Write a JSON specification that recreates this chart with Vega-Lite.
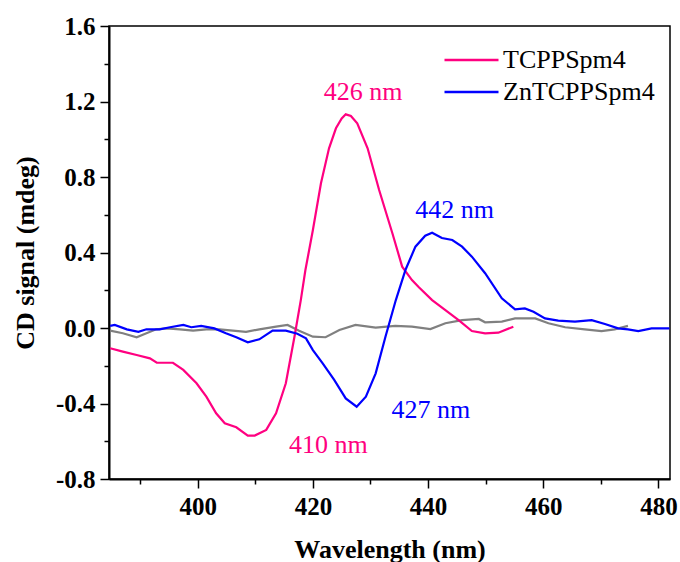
{
  "$schema": "https://vega.github.io/schema/vega-lite/v6.json",
  "autosize": "none",
  "padding": {"left": 109, "top": 26, "right": 10, "bottom": 83},
  "width": 561,
  "height": 453,
  "background": "white",
  "config": {
    "view": {"stroke": "black", "strokeWidth": 1.5},
    "font": "Liberation Serif, Times New Roman, serif"
  },
  "datasets": {
    "main": [
      {"wl": 384.8, "cd": -0.107, "series": "TCPPSpm4"},
      {"wl": 387.0, "cd": -0.125, "series": "TCPPSpm4"},
      {"wl": 389.4, "cd": -0.143, "series": "TCPPSpm4"},
      {"wl": 391.7, "cd": -0.161, "series": "TCPPSpm4"},
      {"wl": 392.9, "cd": -0.184, "series": "TCPPSpm4"},
      {"wl": 395.7, "cd": -0.184, "series": "TCPPSpm4"},
      {"wl": 397.5, "cd": -0.222, "series": "TCPPSpm4"},
      {"wl": 399.8, "cd": -0.293, "series": "TCPPSpm4"},
      {"wl": 401.5, "cd": -0.364, "series": "TCPPSpm4"},
      {"wl": 403.2, "cd": -0.452, "series": "TCPPSpm4"},
      {"wl": 404.7, "cd": -0.505, "series": "TCPPSpm4"},
      {"wl": 406.7, "cd": -0.526, "series": "TCPPSpm4"},
      {"wl": 408.7, "cd": -0.570, "series": "TCPPSpm4"},
      {"wl": 409.9, "cd": -0.570, "series": "TCPPSpm4"},
      {"wl": 411.9, "cd": -0.540, "series": "TCPPSpm4"},
      {"wl": 413.6, "cd": -0.452, "series": "TCPPSpm4"},
      {"wl": 415.3, "cd": -0.293, "series": "TCPPSpm4"},
      {"wl": 416.8, "cd": -0.046, "series": "TCPPSpm4"},
      {"wl": 417.9, "cd": 0.148, "series": "TCPPSpm4"},
      {"wl": 418.7, "cd": 0.307, "series": "TCPPSpm4"},
      {"wl": 420.0, "cd": 0.519, "series": "TCPPSpm4"},
      {"wl": 421.4, "cd": 0.767, "series": "TCPPSpm4"},
      {"wl": 422.8, "cd": 0.952, "series": "TCPPSpm4"},
      {"wl": 424.0, "cd": 1.058, "series": "TCPPSpm4"},
      {"wl": 425.0, "cd": 1.110, "series": "TCPPSpm4"},
      {"wl": 425.7, "cd": 1.132, "series": "TCPPSpm4"},
      {"wl": 426.6, "cd": 1.123, "series": "TCPPSpm4"},
      {"wl": 427.7, "cd": 1.084, "series": "TCPPSpm4"},
      {"wl": 429.5, "cd": 0.952, "series": "TCPPSpm4"},
      {"wl": 431.5, "cd": 0.731, "series": "TCPPSpm4"},
      {"wl": 433.8, "cd": 0.502, "series": "TCPPSpm4"},
      {"wl": 435.5, "cd": 0.325, "series": "TCPPSpm4"},
      {"wl": 437.2, "cd": 0.254, "series": "TCPPSpm4"},
      {"wl": 438.4, "cd": 0.216, "series": "TCPPSpm4"},
      {"wl": 440.7, "cd": 0.148, "series": "TCPPSpm4"},
      {"wl": 443.0, "cd": 0.095, "series": "TCPPSpm4"},
      {"wl": 445.3, "cd": 0.042, "series": "TCPPSpm4"},
      {"wl": 447.6, "cd": -0.016, "series": "TCPPSpm4"},
      {"wl": 449.9, "cd": -0.028, "series": "TCPPSpm4"},
      {"wl": 452.2, "cd": -0.025, "series": "TCPPSpm4"},
      {"wl": 454.8, "cd": 0.007, "series": "TCPPSpm4"},
      {"wl": 384.8, "cd": 0.011, "series": "ZnTCPPSpm4"},
      {"wl": 385.6, "cd": 0.016, "series": "ZnTCPPSpm4"},
      {"wl": 387.7, "cd": -0.007, "series": "ZnTCPPSpm4"},
      {"wl": 389.7, "cd": -0.020, "series": "ZnTCPPSpm4"},
      {"wl": 391.1, "cd": -0.007, "series": "ZnTCPPSpm4"},
      {"wl": 393.4, "cd": -0.007, "series": "ZnTCPPSpm4"},
      {"wl": 395.2, "cd": 0.004, "series": "ZnTCPPSpm4"},
      {"wl": 397.5, "cd": 0.016, "series": "ZnTCPPSpm4"},
      {"wl": 398.9, "cd": 0.004, "series": "ZnTCPPSpm4"},
      {"wl": 400.6, "cd": 0.011, "series": "ZnTCPPSpm4"},
      {"wl": 402.9, "cd": -0.002, "series": "ZnTCPPSpm4"},
      {"wl": 404.9, "cd": -0.028, "series": "ZnTCPPSpm4"},
      {"wl": 406.7, "cd": -0.049, "series": "ZnTCPPSpm4"},
      {"wl": 408.7, "cd": -0.076, "series": "ZnTCPPSpm4"},
      {"wl": 410.7, "cd": -0.060, "series": "ZnTCPPSpm4"},
      {"wl": 413.0, "cd": -0.014, "series": "ZnTCPPSpm4"},
      {"wl": 415.3, "cd": -0.014, "series": "ZnTCPPSpm4"},
      {"wl": 417.3, "cd": -0.030, "series": "ZnTCPPSpm4"},
      {"wl": 418.8, "cd": -0.055, "series": "ZnTCPPSpm4"},
      {"wl": 420.0, "cd": -0.117, "series": "ZnTCPPSpm4"},
      {"wl": 421.7, "cd": -0.187, "series": "ZnTCPPSpm4"},
      {"wl": 423.7, "cd": -0.275, "series": "ZnTCPPSpm4"},
      {"wl": 425.7, "cd": -0.373, "series": "ZnTCPPSpm4"},
      {"wl": 427.6, "cd": -0.417, "series": "ZnTCPPSpm4"},
      {"wl": 429.2, "cd": -0.364, "series": "ZnTCPPSpm4"},
      {"wl": 430.9, "cd": -0.240, "series": "ZnTCPPSpm4"},
      {"wl": 432.6, "cd": -0.046, "series": "ZnTCPPSpm4"},
      {"wl": 434.4, "cd": 0.148, "series": "ZnTCPPSpm4"},
      {"wl": 436.1, "cd": 0.310, "series": "ZnTCPPSpm4"},
      {"wl": 437.8, "cd": 0.431, "series": "ZnTCPPSpm4"},
      {"wl": 439.5, "cd": 0.489, "series": "ZnTCPPSpm4"},
      {"wl": 440.7, "cd": 0.505, "series": "ZnTCPPSpm4"},
      {"wl": 442.4, "cd": 0.477, "series": "ZnTCPPSpm4"},
      {"wl": 444.2, "cd": 0.466, "series": "ZnTCPPSpm4"},
      {"wl": 445.9, "cd": 0.431, "series": "ZnTCPPSpm4"},
      {"wl": 447.6, "cd": 0.378, "series": "ZnTCPPSpm4"},
      {"wl": 449.9, "cd": 0.290, "series": "ZnTCPPSpm4"},
      {"wl": 452.8, "cd": 0.157, "series": "ZnTCPPSpm4"},
      {"wl": 455.1, "cd": 0.099, "series": "ZnTCPPSpm4"},
      {"wl": 456.8, "cd": 0.104, "series": "ZnTCPPSpm4"},
      {"wl": 458.3, "cd": 0.086, "series": "ZnTCPPSpm4"},
      {"wl": 460.3, "cd": 0.051, "series": "ZnTCPPSpm4"},
      {"wl": 462.6, "cd": 0.039, "series": "ZnTCPPSpm4"},
      {"wl": 465.5, "cd": 0.034, "series": "ZnTCPPSpm4"},
      {"wl": 468.4, "cd": 0.042, "series": "ZnTCPPSpm4"},
      {"wl": 470.7, "cd": 0.021, "series": "ZnTCPPSpm4"},
      {"wl": 473.0, "cd": -0.002, "series": "ZnTCPPSpm4"},
      {"wl": 474.7, "cd": -0.007, "series": "ZnTCPPSpm4"},
      {"wl": 476.5, "cd": -0.016, "series": "ZnTCPPSpm4"},
      {"wl": 478.8, "cd": -0.002, "series": "ZnTCPPSpm4"},
      {"wl": 481.9, "cd": -0.002, "series": "ZnTCPPSpm4"}
    ],
    "gray": [
      {"wl": 384.8, "cd": -0.014},
      {"wl": 387.0, "cd": -0.028},
      {"wl": 389.4, "cd": -0.049},
      {"wl": 391.1, "cd": -0.028},
      {"wl": 392.8, "cd": -0.007},
      {"wl": 394.6, "cd": -0.002},
      {"wl": 396.9, "cd": -0.007},
      {"wl": 399.2, "cd": -0.014},
      {"wl": 401.5, "cd": -0.007},
      {"wl": 403.8, "cd": -0.007},
      {"wl": 406.1, "cd": -0.014},
      {"wl": 408.4, "cd": -0.020},
      {"wl": 410.7, "cd": -0.007},
      {"wl": 413.6, "cd": 0.007},
      {"wl": 415.6, "cd": 0.016},
      {"wl": 417.6, "cd": -0.015},
      {"wl": 420.0, "cd": -0.046},
      {"wl": 422.2, "cd": -0.049},
      {"wl": 424.6, "cd": -0.011},
      {"wl": 427.4, "cd": 0.016},
      {"wl": 430.9, "cd": 0.002},
      {"wl": 434.3, "cd": 0.011},
      {"wl": 437.2, "cd": 0.007},
      {"wl": 440.4, "cd": -0.006},
      {"wl": 443.0, "cd": 0.025},
      {"wl": 445.9, "cd": 0.042},
      {"wl": 448.8, "cd": 0.048},
      {"wl": 449.9, "cd": 0.030},
      {"wl": 452.8, "cd": 0.034},
      {"wl": 455.1, "cd": 0.051},
      {"wl": 458.6, "cd": 0.051},
      {"wl": 460.9, "cd": 0.025},
      {"wl": 463.8, "cd": 0.004},
      {"wl": 467.2, "cd": -0.007},
      {"wl": 470.1, "cd": -0.016},
      {"wl": 472.4, "cd": -0.007},
      {"wl": 474.7, "cd": 0.011}
    ],
    "labels": [
      {"wl": 428.7, "cd": 1.25, "text": "426 nm", "series": "TCPPSpm4"},
      {"wl": 444.6, "cd": 0.625, "text": "442 nm", "series": "ZnTCPPSpm4"},
      {"wl": 440.5, "cd": -0.434, "text": "427 nm", "series": "ZnTCPPSpm4"},
      {"wl": 422.7, "cd": -0.62, "text": "410 nm", "series": "TCPPSpm4"}
    ]
  },
  "resolve": {"axis": {"x": "independent", "y": "independent"}},
  "layer": [
    {
      "data": {"name": "gray"},
      "mark": {"type": "line", "color": "#808080", "strokeWidth": 2.2},
      "encoding": {
        "x": {
          "field": "wl", "type": "quantitative",
          "scale": {"domain": [384.6, 482], "nice": false, "zero": false},
          "axis": {"orient": "bottom", "values": [390, 410, 430, 450, 470], "labels": false, "domain": false, "grid": false, "title": null, "tickSize": 5, "tickWidth": 1.5, "tickColor": "black"}
        },
        "y": {
          "field": "cd", "type": "quantitative",
          "scale": {"domain": [-0.8, 1.6], "nice": false, "zero": false},
          "axis": {"orient": "left", "values": [-0.6, -0.2, 0.2, 0.6, 1.0, 1.4], "labels": false, "domain": false, "grid": false, "title": null, "tickSize": 5, "tickWidth": 1.5, "tickColor": "black"}
        }
      }
    },
    {
      "data": {"name": "main"},
      "mark": {"type": "line", "strokeWidth": 2.2},
      "encoding": {
        "x": {
          "field": "wl", "type": "quantitative",
          "scale": {"domain": [384.6, 482], "nice": false, "zero": false},
          "axis": {
            "orient": "bottom",
            "values": [400, 420, 440, 460, 480], "grid": false,
            "domainColor": "black", "domainWidth": 2,
            "tickColor": "black", "tickWidth": 1.5, "tickSize": 9,
            "labelFont": "Liberation Serif, Times New Roman, serif", "labelFontWeight": "bold", "labelFontSize": 25, "labelColor": "black", "labelPadding": 6,
            "title": "Wavelength (nm)",
            "titleFont": "Liberation Serif, Times New Roman, serif", "titleFontWeight": "bold", "titleFontSize": 26, "titleColor": "black",
            "titleX": 280.5, "titleY": 78, "titleAlign": "center", "titleBaseline": "alphabetic"
          }
        },
        "y": {
          "field": "cd", "type": "quantitative",
          "scale": {"domain": [-0.8, 1.6], "nice": false, "zero": false},
          "axis": {
            "orient": "left",
            "values": [-0.8, -0.4, 0, 0.4, 0.8, 1.2, 1.6], "grid": false,
            "labelExpr": "replace(format(datum.value, '.1f'), '\u2212', '-')",
            "domainColor": "black", "domainWidth": 2,
            "tickColor": "black", "tickWidth": 1.5, "tickSize": 9,
            "labelFont": "Liberation Serif, Times New Roman, serif", "labelFontWeight": "bold", "labelFontSize": 25, "labelColor": "black", "labelPadding": 5,
            "title": "CD signal (mdeg)",
            "titleFont": "Liberation Serif, Times New Roman, serif", "titleFontWeight": "bold", "titleFontSize": 26, "titleColor": "black",
            "titleX": -84, "titleY": 226.5, "titleAngle": -90, "titleAlign": "center", "titleBaseline": "middle"
          }
        },
        "color": {
          "field": "series", "type": "nominal",
          "scale": {"domain": ["TCPPSpm4", "ZnTCPPSpm4"], "range": ["#ff0080", "#0000ff"]},
          "legend": {
            "title": null, "orient": "none", "legendX": 334, "legendY": 18,
            "symbolType": "stroke", "symbolSize": 2916, "symbolStrokeWidth": 2.5,
            "labelFont": "Liberation Serif, Times New Roman, serif", "labelFontSize": 26, "labelColor": "black", "labelOffset": 3,
            "clipHeight": 32, "rowPadding": 0, "padding": 0
          }
        }
      }
    },
    {
      "data": {"name": "labels"},
      "mark": {"type": "text", "font": "Liberation Serif, Times New Roman, serif", "fontSize": 26, "align": "center", "baseline": "middle"},
      "encoding": {
        "x": {"field": "wl", "type": "quantitative", "scale": {"domain": [384.6, 482], "nice": false, "zero": false}, "axis": null},
        "y": {"field": "cd", "type": "quantitative", "scale": {"domain": [-0.8, 1.6], "nice": false, "zero": false}, "axis": null},
        "text": {"field": "text"},
        "color": {"field": "series", "type": "nominal", "legend": null}
      }
    }
  ]
}
